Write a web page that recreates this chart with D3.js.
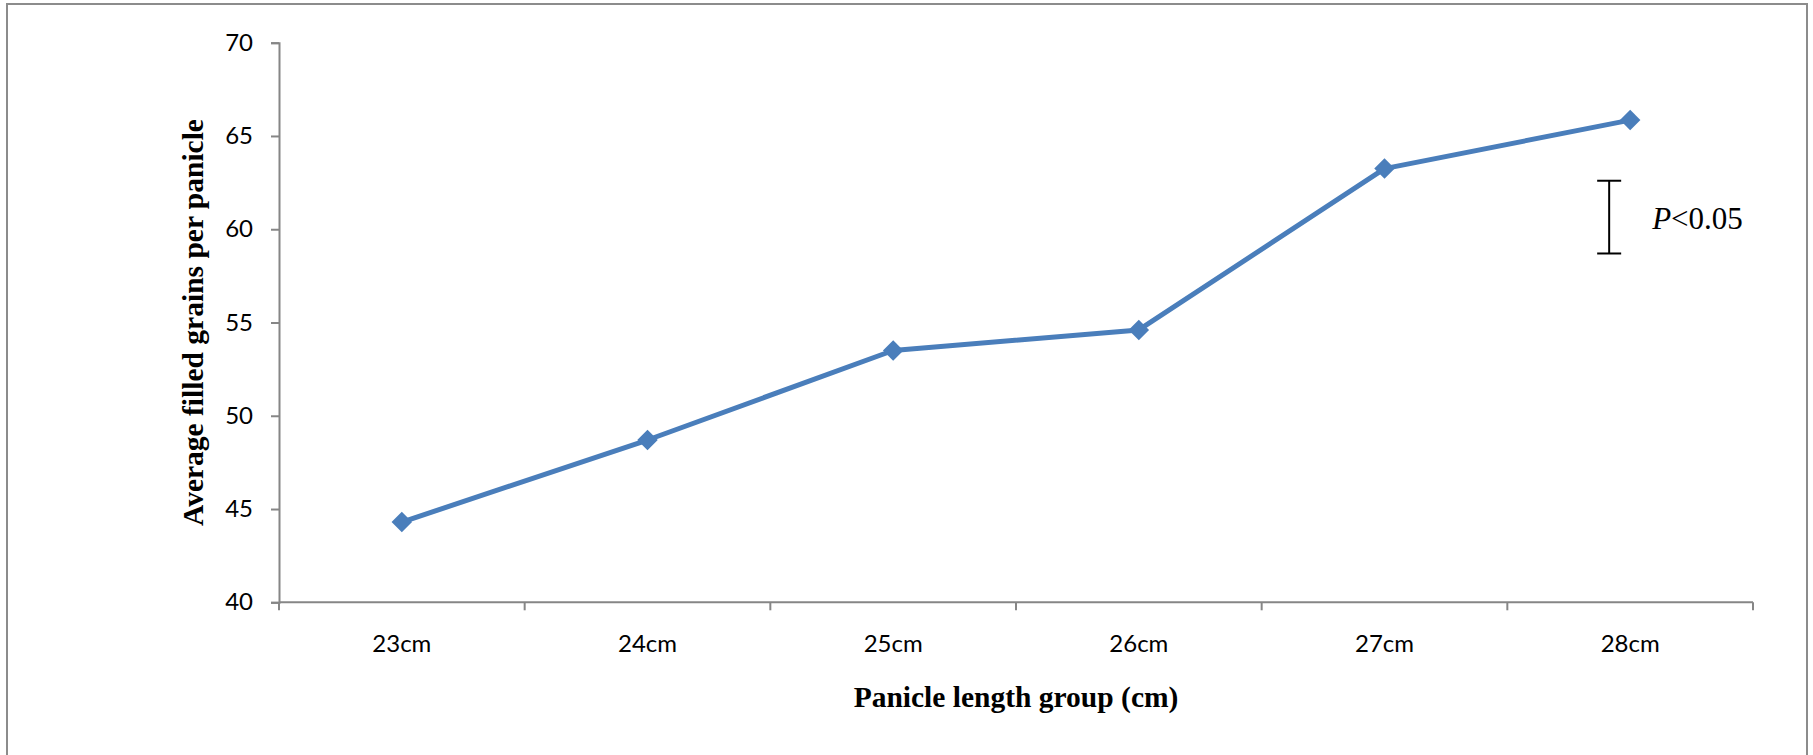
<!DOCTYPE html>
<html>
<head>
<meta charset="utf-8">
<script src="https://cdn.jsdelivr.net/npm/d3@7"></script>
<style>
  html, body { margin: 0; padding: 0; background: #fff; }
  svg { display: block; }
</style>
</head>
<body>
<svg id="chart" width="1813" height="755"></svg>
<script>
// Panicle length groups and mean filled grains per panicle
const categories = ["23cm", "24cm", "25cm", "26cm", "27cm", "28cm"];
const grainValues = [44.3, 48.7, 53.5, 54.6, 63.25, 65.85];
const yTicks = [40, 45, 50, 55, 60, 65, 70];
// Significance bar (LSD at P<0.05), in axis units
const sigLow = 58.7;
const sigHigh = 62.6;
const sigLabelItalic = "P";
const sigLabelRest = "<0.05";

const svg = d3.select("#chart");
const plot = { left: 279, right: 1753, top: 42.7, bottom: 602.3 };

// outer frame
svg.append("rect")
  .attr("x", 7).attr("y", 4)
  .attr("width", 1800).attr("height", 770)
  .attr("fill", "#fff")
  .attr("stroke", "#8c8c8c").attr("stroke-width", 2);

const x = d3.scaleBand().domain(categories).range([plot.left, plot.right]);
const y = d3.scaleLinear().domain([40, 70]).range([plot.bottom, plot.top]);

const axisColor = "#868686";
const tickFont = "Lato, 'Liberation Sans', sans-serif";
const tickSize = 24;

// y axis
const yAxis = svg.append("g")
  .attr("transform", `translate(${plot.left},0)`)
  .call(d3.axisLeft(y).tickValues(yTicks).tickSize(8).tickPadding(18).tickFormat(d3.format("d")));
yAxis.select(".domain").attr("stroke", axisColor).attr("stroke-width", 2);
yAxis.selectAll(".tick line").attr("stroke", axisColor).attr("stroke-width", 2);
yAxis.selectAll(".tick text")
  .attr("font-family", tickFont).attr("font-size", tickSize).attr("fill", "#000");

// x axis: ticks sit on band boundaries, labels at band centres
const xAxisG = svg.append("g").attr("transform", `translate(0,${plot.bottom})`);
xAxisG.append("line")
  .attr("x1", plot.left).attr("x2", plot.right)
  .attr("stroke", axisColor).attr("stroke-width", 2);
const boundaries = categories.map(c => x(c)).concat([x(categories[categories.length - 1]) + x.bandwidth()]);
xAxisG.selectAll("line.tick")
  .data(boundaries)
  .join("line")
  .attr("class", "tick")
  .attr("x1", d => d).attr("x2", d => d)
  .attr("y1", 0).attr("y2", 8)
  .attr("stroke", axisColor).attr("stroke-width", 2);
xAxisG.selectAll("text")
  .data(categories)
  .join("text")
  .attr("x", d => x(d) + x.bandwidth() / 2)
  .attr("y", 50)
  .attr("text-anchor", "middle")
  .attr("font-family", tickFont).attr("font-size", tickSize).attr("fill", "#000")
  .text(d => d);

// axis titles
const serif = "'Liberation Serif', 'Times New Roman', serif";
svg.append("text")
  .attr("x", (plot.left + plot.right) / 2).attr("y", 707)
  .attr("text-anchor", "middle")
  .attr("font-family", serif).attr("font-weight", "bold").attr("font-size", 29.5)
  .text("Panicle length group (cm)");
svg.append("text")
  .attr("transform", `translate(203,${(plot.top + plot.bottom) / 2}) rotate(-90)`)
  .attr("text-anchor", "middle")
  .attr("font-family", serif).attr("font-weight", "bold").attr("font-size", 29.5)
  .text("Average filled grains per panicle");

// series line
const lineColor = "#4a7ebb";
const pts = categories.map((c, i) => ({ c, v: grainValues[i] }));
const line = d3.line()
  .x(d => x(d.c) + x.bandwidth() / 2)
  .y(d => y(d.v));
svg.append("path")
  .datum(pts)
  .attr("d", line)
  .attr("fill", "none")
  .attr("stroke", lineColor)
  .attr("stroke-width", 5)
  .attr("stroke-linejoin", "round");

// diamond markers
const diamond = d3.symbol().type(d3.symbolSquare).size(210);
svg.selectAll("path.marker")
  .data(pts)
  .join("path")
  .attr("class", "marker")
  .attr("d", diamond)
  .attr("transform", d => `translate(${x(d.c) + x.bandwidth() / 2},${y(d.v)}) rotate(45)`)
  .attr("fill", lineColor);

// significance bar with label
const sigX = x(categories[5]) + x.bandwidth() / 2 - 21;
const sig = svg.append("g").attr("stroke", "#000").attr("stroke-width", 2);
sig.append("line").attr("x1", sigX).attr("x2", sigX).attr("y1", y(sigHigh)).attr("y2", y(sigLow));
sig.append("line").attr("x1", sigX - 12).attr("x2", sigX + 12).attr("y1", y(sigHigh)).attr("y2", y(sigHigh));
sig.append("line").attr("x1", sigX - 12).attr("x2", sigX + 12).attr("y1", y(sigLow)).attr("y2", y(sigLow));

const sigText = svg.append("text")
  .attr("x", sigX + 43).attr("y", 229)
  .attr("font-family", serif).attr("font-size", 31).attr("fill", "#000");
sigText.append("tspan").attr("font-style", "italic").text(sigLabelItalic);
sigText.append("tspan").text(sigLabelRest);
</script>
</body>
</html>
